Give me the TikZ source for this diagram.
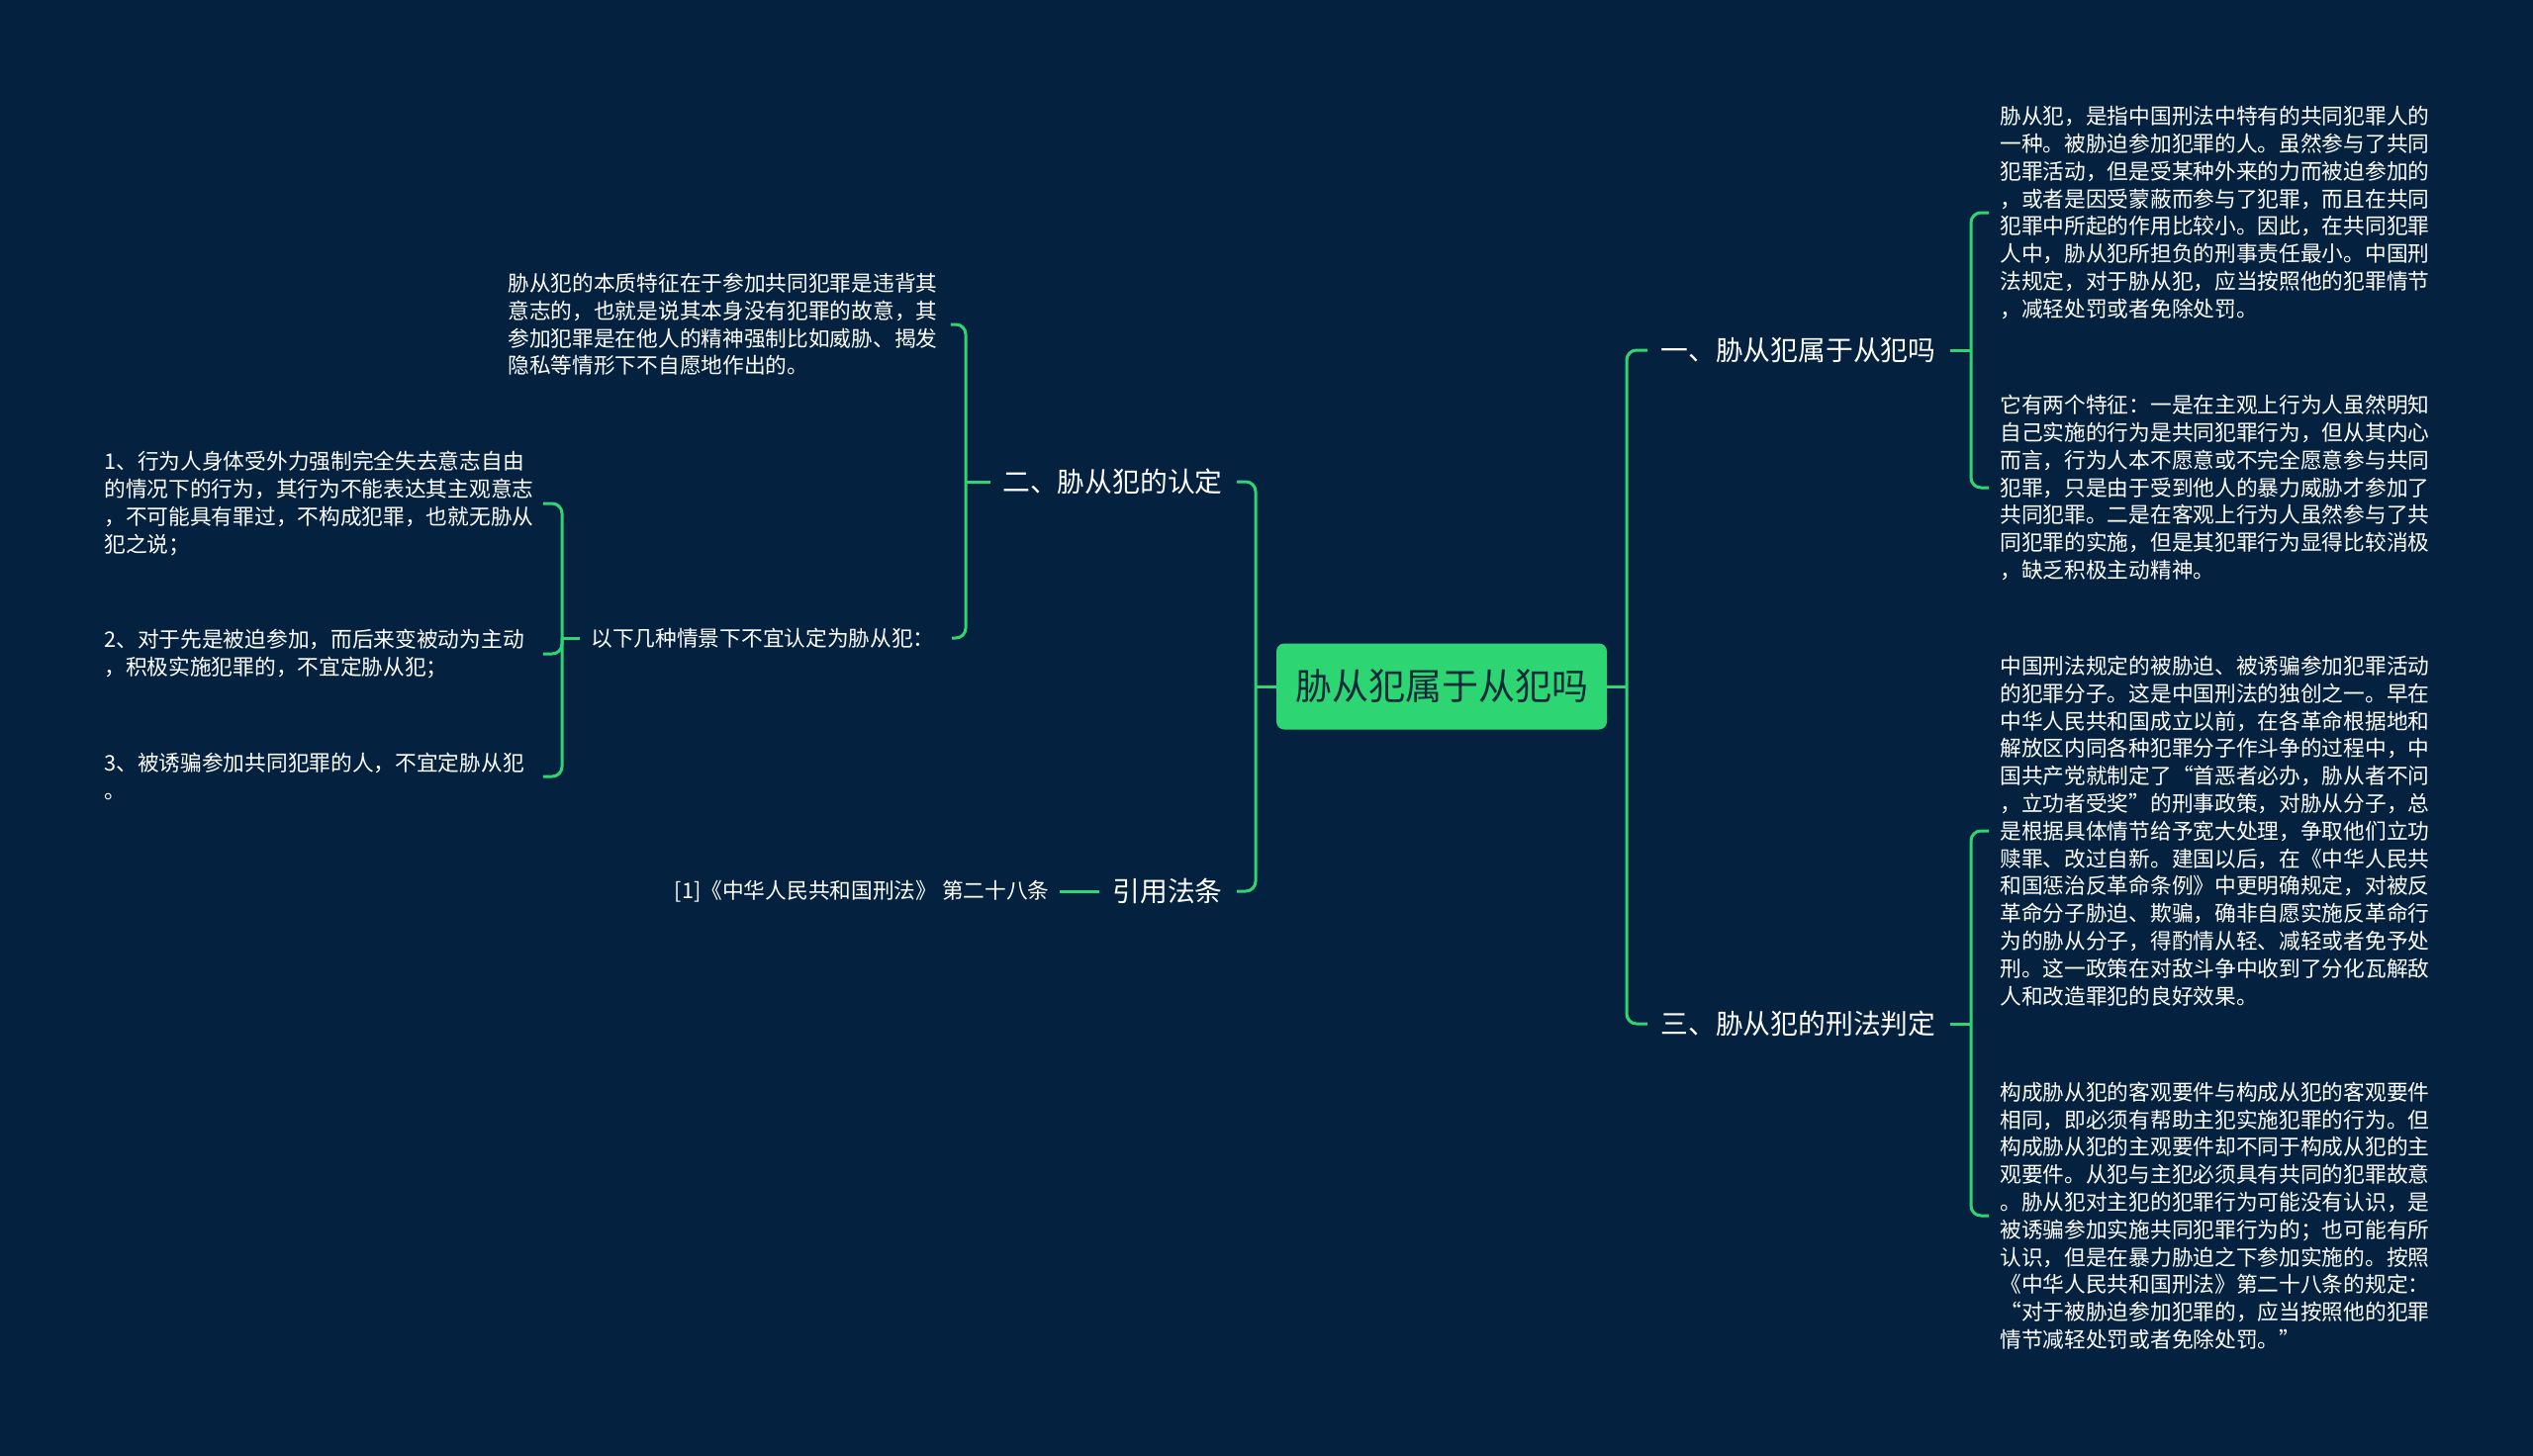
\documentclass[tikz,border=0pt]{standalone}
\usepackage{fontspec}
\setmainfont{Noto Sans CJK SC}
\definecolor{bg}{HTML}{04223F}
\definecolor{mint}{HTML}{2ED573}
\definecolor{ink}{HTML}{0B2A3A}
\begin{document}
\begin{tikzpicture}
        [x=0.5pt,y=-0.5pt,
        root/.style={fill=mint,text=ink,rounded corners=4pt,inner sep=0pt,
            minimum width=167pt,minimum height=43.5pt,font=\fontsize{18.5}{22}\selectfont},
        topic/.style={text=white,inner sep=0pt,font=\fontsize{13.9}{16}\selectfont},
        note/.style={text=white,inner sep=0pt,font=\fontsize{10.85}{13.9}\selectfont},
        leaf/.style={note,align=left,text width=217pt},
        line/.style={draw=mint,line width=1.5pt},
        elbow/.style={line,rounded corners=5pt}]
    \useasboundingbox[fill=bg] (0,0) rectangle (2560,1472);
    % centre
    \node[root] (root) at (1457,694) {胁从犯属于从犯吗};
    \coordinate (jr) at (1644,694);
    \coordinate (jl) at (1269,694);
    \draw[line] (root.east) -- (jr);
    \draw[line] (root.west) -- (jl);
    % right side
    \node[topic,anchor=west] (t1) at (1678,354) {一、胁从犯属于从犯吗};
    \node[topic,anchor=west] (t3) at (1678,1035) {三、胁从犯的刑法判定};
    \draw[elbow] (jr) |- ([xshift=-6.5pt]t1.west);
    \draw[elbow] (jr) |- ([xshift=-6.5pt]t3.west);
    \node[leaf,anchor=west] (r1) at (2021,215) {胁从犯，是指中国刑法中特有的共同犯罪人的\\一种。被胁迫参加犯罪的人。虽然参与了共同\\犯罪活动，但是受某种外来的力而被迫参加的\\，或者是因受蒙蔽而参与了犯罪，而且在共同\\犯罪中所起的作用比较小。因此，在共同犯罪\\人中，胁从犯所担负的刑事责任最小。中国刑\\法规定，对于胁从犯，应当按照他的犯罪情节\\，减轻处罚或者免除处罚。};
    \node[leaf,anchor=west] (r2) at (2021,493) {它有两个特征：一是在主观上行为人虽然明知\\自己实施的行为是共同犯罪行为，但从其内心\\而言，行为人本不愿意或不完全愿意参与共同\\犯罪，只是由于受到他人的暴力威胁才参加了\\共同犯罪。二是在客观上行为人虽然参与了共\\同犯罪的实施，但是其犯罪行为显得比较消极\\，缺乏积极主动精神。};
    \node[leaf,anchor=west] (r3) at (2021,840) {中国刑法规定的被胁迫、被诱骗参加犯罪活动\\的犯罪分子。这是中国刑法的独创之一。早在\\中华人民共和国成立以前，在各革命根据地和\\解放区内同各种犯罪分子作斗争的过程中，中\\国共产党就制定了“首恶者必办，胁从者不问\\，立功者受奖”的刑事政策，对胁从分子，总\\是根据具体情节给予宽大处理，争取他们立功\\赎罪、改过自新。建国以后，在《中华人民共\\和国惩治反革命条例》中更明确规定，对被反\\革命分子胁迫、欺骗，确非自愿实施反革命行\\为的胁从分子，得酌情从轻、减轻或者免予处\\刑。这一政策在对敌斗争中收到了分化瓦解敌\\人和改造罪犯的良好效果。};
    \node[leaf,anchor=west] (r4) at (2021,1229) {构成胁从犯的客观要件与构成从犯的客观要件\\相同，即必须有帮助主犯实施犯罪的行为。但\\构成胁从犯的主观要件却不同于构成从犯的主\\观要件。从犯与主犯必须具有共同的犯罪故意\\。胁从犯对主犯的犯罪行为可能没有认识，是\\被诱骗参加实施共同犯罪行为的；也可能有所\\认识，但是在暴力胁迫之下参加实施的。按照\\《中华人民共和国刑法》第二十八条的规定：\\“对于被胁迫参加犯罪的，应当按照他的犯罪\\情节减轻处罚或者免除处罚。”};
    \coordinate (j1) at (1992,354);
    \coordinate (j3) at (1992,1035);
    \draw[line] ([xshift=7pt]t1.east) -- (j1);
    \draw[line] ([xshift=7pt]t3.east) -- (j3);
    \draw[elbow] (j1) |- ([xshift=-5.5pt]r1.west);
    \draw[elbow] (j1) |- ([xshift=-5.5pt]r2.west);
    \draw[elbow] (j3) |- ([xshift=-5.5pt]r3.west);
    \draw[elbow] (j3) |- ([xshift=-5.5pt]r4.west);
    % left side
    \node[topic,anchor=east] (t2) at (1236,487) {二、胁从犯的认定};
    \node[topic,anchor=east] (t4) at (1236,901) {引用法条};
    \draw[elbow] (jl) |- ([xshift=7pt]t2.east);
    \draw[elbow] (jl) |- ([xshift=7pt]t4.east);
    \node[leaf,anchor=west] (d1) at (513,328) {胁从犯的本质特征在于参加共同犯罪是违背其\\意志的，也就是说其本身没有犯罪的故意，其\\参加犯罪是在他人的精神强制比如威胁、揭发\\隐私等情形下不自愿地作出的。};
    \node[note,anchor=east] (d2) at (945,645) {以下几种情景下不宜认定为胁从犯：};
    \coordinate (j2) at (976,487);
    \draw[line] ([xshift=-6pt]t2.west) -- (j2);
    \draw[elbow] (j2) |- ([xshift=6.5pt]d1.east);
    \draw[elbow] (j2) |- ([xshift=8.5pt]d2.east);
    \node[leaf,anchor=west] (e1) at (105,509) {1、行为人身体受外力强制完全失去意志自由\\的情况下的行为，其行为不能表达其主观意志\\，不可能具有罪过，不构成犯罪，也就无胁从\\犯之说；};
    \node[leaf,anchor=west] (e2) at (105,661) {2、对于先是被迫参加，而后来变被动为主动\\，积极实施犯罪的，不宜定胁从犯；};
    \node[leaf,anchor=west] (e3) at (105,785) {3、被诱骗参加共同犯罪的人，不宜定胁从犯\\。};
    \coordinate (jd) at (568,645);
    \draw[line] ([xshift=-5.5pt]d2.west) -- (jd);
    \draw[elbow] (jd) |- ([xshift=4.5pt]e1.east);
    \draw[elbow] (jd) |- ([xshift=4.5pt]e2.east);
    \draw[elbow] (jd) |- ([xshift=4.5pt]e3.east);
    \node[note,anchor=east] (law) at (1061,901) {[1]《中华人民共和国刑法》 第二十八条};
    \draw[line] ([xshift=-6.5pt]t4.west) -- ([xshift=5pt]law.east);
\end{tikzpicture}
\end{document}
